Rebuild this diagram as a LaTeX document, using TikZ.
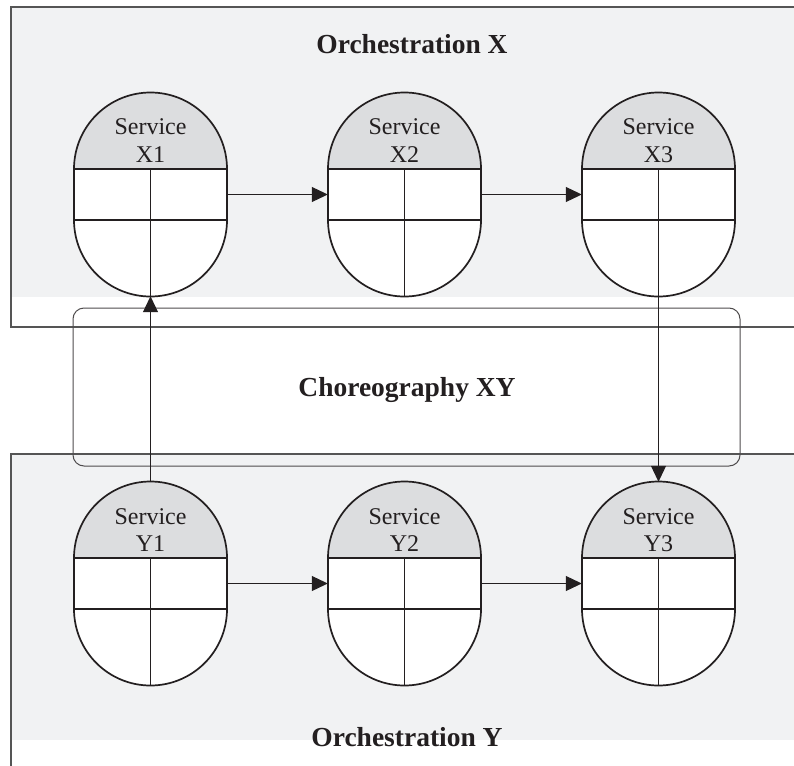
\documentclass[tikz,border=0pt]{standalone}
\usepackage{fontspec}
\setmainfont{Liberation Serif}
\usetikzlibrary{arrows.meta}
\definecolor{orchfill}{HTML}{F1F2F3}
\definecolor{capfill}{HTML}{DCDDDF}
\definecolor{boxline}{HTML}{555555}
\definecolor{ink}{HTML}{231F20}
\tikzset{
  orchbox/.style={draw=boxline, line width=1.3pt},
  chorbox/.style={draw=ink!80, line width=1pt, rounded corners=11pt},
  svcline/.style={draw=ink, line width=1.7pt},
  svclabel/.style={font=\fontsize{24}{27}\selectfont, text=ink, inner sep=0pt, anchor=base},
  title/.style={font=\fontsize{27.5}{32}\selectfont\bfseries, text=ink, inner sep=0pt, anchor=base},
  flow/.style={draw=ink, line width=1pt, -{Triangle[length=16pt,width=15pt]}},
  frame/.style={minimum width=153pt, minimum height=203pt, inner sep=0pt, draw=none}
}
\newcommand{\svcshape}[5]{% name, cx, ty, line1, line2
  \fill[capfill] (#2-76.5,#3+76) arc (180:360:76.5) -- cycle;
  \fill[white] (#2-76.5,#3+76) rectangle (#2+76.5,#3+127);
  \fill[white] (#2+76.5,#3+127) arc (0:180:76.5) -- cycle;
  \draw[svcline] (#2-76.5,#3+76) arc (180:360:76.5) -- (#2+76.5,#3+127) arc (0:180:76.5) -- cycle;
  \draw[svcline] (#2-76.5,#3+76) -- (#2+76.5,#3+76);
  \draw[svcline] (#2-76.5,#3+127) -- (#2+76.5,#3+127);
  \draw[svcline] (#2,#3+76) -- (#2,#3+203);
  \node[svclabel] (#1a) at (#2,#3+42) {#4};
  \node[svclabel] (#1b) at (#2,#3+69) {#5};
  \node[frame] (#1) at (#2,#3+101.5) {};
}
\begin{document}
\begin{tikzpicture}[x=1pt,y=-1pt]
\useasboundingbox (0,0) rectangle (794,765);
\fill[white] (0,0) rectangle (794,765);
% Orchestration X
\fill[orchfill] (11,7) rectangle (800,297);
\draw[orchbox] (800,7) -- (11,7) -- (11,327) -- (800,327);
% Orchestration Y
\fill[orchfill] (11,454) rectangle (800,740);
\draw[orchbox] (800,454) -- (11,454) -- (11,770);
% Choreography
\draw[chorbox] (73,308) rectangle (740,466);
\node[title] (tx) at (412,54) {Orchestration X};
\node[title] (ty) at (407,746) {Orchestration Y};
\node[title] (tc) at (407,396) {Choreography XY};
% services
\svcshape{X1}{150.5}{93}{Service}{X1}
\svcshape{X2}{404.5}{93}{Service}{X2}
\svcshape{X3}{658.5}{93}{Service}{X3}
\svcshape{Y1}{150.5}{482}{Service}{Y1}
\svcshape{Y2}{404.5}{482}{Service}{Y2}
\svcshape{Y3}{658.5}{482}{Service}{Y3}
% connectors
\draw[flow] (X1.east) -- (X2.west);
\draw[flow] (X2.east) -- (X3.west);
\draw[flow] (Y1.east) -- (Y2.west);
\draw[flow] (Y2.east) -- (Y3.west);
\draw[flow] (Y1.north) -- (X1.south);
\draw[flow] (X3.south) -- (Y3.north);
\end{tikzpicture}
\end{document}
